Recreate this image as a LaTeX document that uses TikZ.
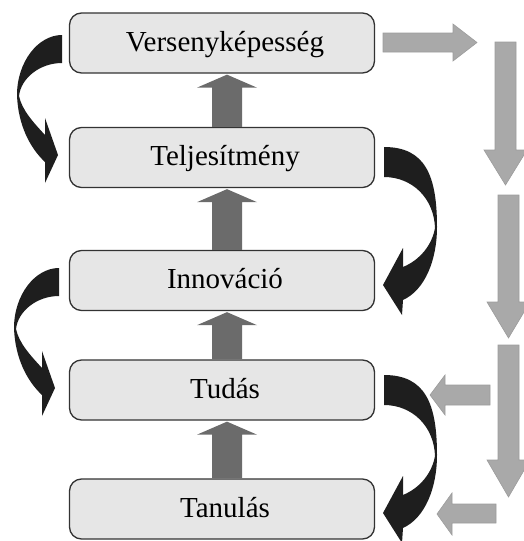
\documentclass[tikz,border=0pt]{standalone}
\usepackage{fontspec}
\setmainfont{Liberation Serif}
\usetikzlibrary{calc}
\definecolor{boxfill}{HTML}{E6E6E6}
\definecolor{boxline}{HTML}{333333}
\definecolor{uparr}{HTML}{6B6B6B}
\definecolor{greyarr}{HTML}{A9A9A9}
\definecolor{greyedge}{HTML}{9C9C9C}
\definecolor{curvearr}{HTML}{1E1E1E}
\tikzset{
  stage/.style={draw=boxline, line width=1.3pt, fill=boxfill, rounded corners=12pt,
    minimum width=305pt, minimum height=60pt, inner sep=0pt,
    text height=20pt, text depth=4pt, font=\fontsize{29}{34}\selectfont},
  upblock/.style={fill=uparr},
  greyblock/.style={fill=greyarr, draw=greyedge, line width=0.6pt},
  curveblock/.style={fill=curvearr}
}
\newcommand\myuparrow[2]{%
  \fill[upblock] ($(#1.north)+(-10,0)$) -- ($(#2.south)+(-10,14)$) -- ($(#2.south)+(-25,14)$)
    -- ($(#2.south)+(5,1)$) -- ($(#2.south)+(35,14)$) -- ($(#2.south)+(20,14)$)
    -- ($(#1.north)+(20,0)$) -- cycle;}
\newcommand\myleftcurve[1]{%
  \fill[curveblock, shift={#1}] (0,0) .. controls (-24,0) and (-45,27) .. (-45,60)
    .. controls (-44,90) and (-32,113) .. (-17,127)
    -- (-17,148) -- (-4,120) -- (-17,83) -- (-17,100)
    .. controls (-29,87) and (-40,75) .. (-43,61)
    .. controls (-41,43) and (-22,28) .. (0,28) -- cycle;}
\newcommand\myrightcurve[1]{%
  \fill[curveblock, shift={#1}] (0,0) .. controls (41,0) and (53,28) .. (53,80)
    .. controls (53,113) and (41,143) .. (19,153)
    -- (18,168) -- (-1,138) -- (19,101) -- (19,120)
    .. controls (36,113) and (48,98) .. (51,81)
    .. controls (50,51) and (28,30) .. (0,30) -- cycle;}
\begin{document}
\begin{tikzpicture}[x=1pt,y=-1pt]
\useasboundingbox (0,0) rectangle (524,541);
\clip (0,0) rectangle (524,541);
% stages
\node[stage] (b1) at (222,43)    {\hspace*{6pt}Versenyképesség};
\node[stage] (b2) at (222,157.5) {\hspace*{6pt}Teljesítmény};
\node[stage] (b3) at (222,280.5) {\hspace*{6pt}Innováció};
\node[stage] (b4) at (222,390)   {\hspace*{6pt}Tudás};
\node[stage] (b5) at (222,509)   {\hspace*{6pt}Tanulás};
% upward arrows
\myuparrow{b2}{b1}
\myuparrow{b3}{b2}
\myuparrow{b4}{b3}
\myuparrow{b5}{b4}
% curved black arrows
\myleftcurve{(62,35)}
\myleftcurve{(59,268)}
\myrightcurve{(384,147)}
\myrightcurve{(384,375)}
% light grey block arrows
\filldraw[greyblock] (383,33) -- (453,33) -- (453,24) -- (477,42.5) -- (453,61) -- (453,52) -- (383,52) -- cycle;
\filldraw[greyblock] (495,42) -- (516,42) -- (516,150) -- (527,150) -- (505.5,185) -- (484,150) -- (495,150) -- cycle;
\filldraw[greyblock] (498,195) -- (519,195) -- (519,302) -- (530,302) -- (508.5,338) -- (487,302) -- (498,302) -- cycle;
\filldraw[greyblock] (498,345) -- (519,345) -- (519,460) -- (530,460) -- (508.5,497) -- (487,460) -- (498,460) -- cycle;
\filldraw[greyblock] (490,385) -- (445,385) -- (445,375) -- (430,395) -- (445,415) -- (445,405) -- (490,405) -- cycle;
\filldraw[greyblock] (496,504) -- (452,504) -- (452,493) -- (437,514) -- (452,535) -- (452,523) -- (496,523) -- cycle;
\end{tikzpicture}
\end{document}
